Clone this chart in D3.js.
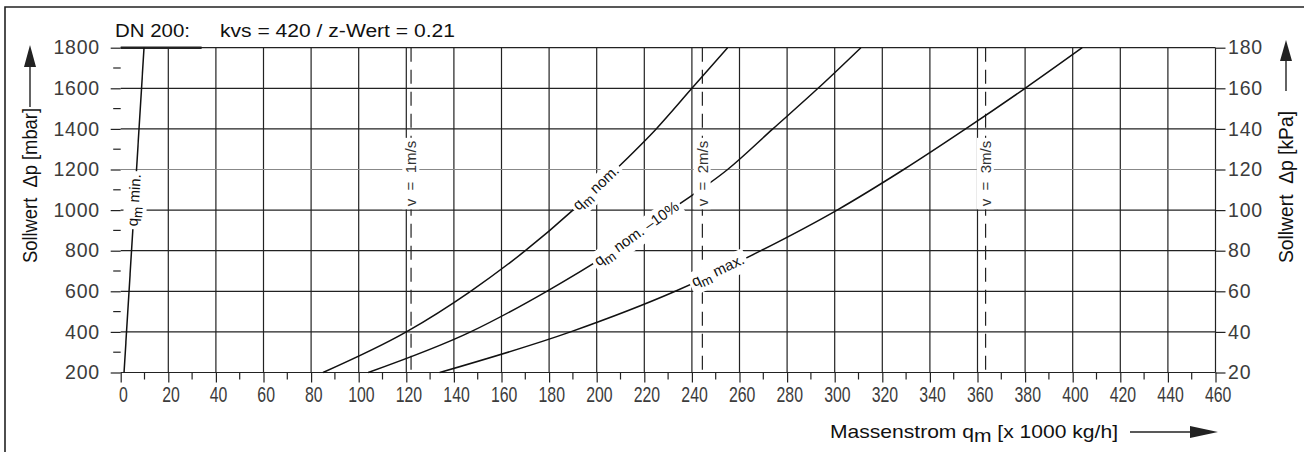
<!DOCTYPE html>
<html>
<head>
<meta charset="utf-8">
<script src="https://cdn.jsdelivr.net/npm/d3@7"></script>
<style>
  body { margin: 0; background: #fff; }
  svg { display: block; }
</style>
</head>
<body>
<div id="chart"></div>
<script>
// Sollwert dp (mbar) at which the curves were read
const dpValues = [200, 400, 600, 800, 1000, 1200, 1400, 1600, 1800];
// Massenstrom in x 1000 kg/h for each curve at those dp
const qNom = [85, 120, 147, 170, 190, 208, 225, 240, 255];
const qNom10 = [104, 147, 179, 207, 231, 255, 274, 293, 311];
const qMax = [134, 189, 233, 269, 301, 329, 355, 380, 404];
// q min is drawn as a steep straight line
const qMinDp = [200, 1800];
const qMin = [1.4, 9.8];

// curve labels and the dp where they sit on the curve
const curveNames = ["nom.", "nom. \u201310%", "max.", "min."];
const curveLabelDp = [1109, 882, 700, 1049];

// flow velocity lines
const velocityQ = [122, 244.4, 363.4];
const velocityLabels = ["v  =  1m/s", "v  =  2m/s", "v  =  3m/s"];
const velocityLabelDp = 1180;

// ticks
const xTickLabels = [0, 20, 40, 60, 80, 100, 120, 140, 160, 180, 200, 220, 240, 260, 280, 300, 320, 340, 360, 380, 400, 420, 440, 460];
const xMinorTicks = [10, 30, 50, 70, 90, 110, 130, 150, 170, 190, 210, 230, 250, 270, 290, 310, 330, 350, 370, 390, 410, 430, 450];
const yTickLabels = [200, 400, 600, 800, 1000, 1200, 1400, 1600, 1800];
const yMinorTicks = [300, 500, 700, 900, 1100, 1300, 1500, 1700];
const kPaTickLabels = [20, 40, 60, 80, 100, 120, 140, 160, 180];
const topBar = [0, 34];

var width = 1304,
    height = 452;

var x = d3.scaleLinear().domain([0, 460]).range([120.7, 1215.5]);
var y = d3.scaleLinear().domain([200, 1800]).range([372.5, 47.7]);
var yKPa = d3.scaleLinear().domain([20, 180]).range([372.5, 47.7]);

var ink = "#222";
var font = "'Liberation Sans', Arial, sans-serif";

var svg = d3.select("#chart")
    .append("svg")
    .attr("width", width)
    .attr("height", height)
    .style("font-family", font);

// frame (top + left)
svg.append("path")
    .attr("d", "M5,452 L5,7 L1304,7")
    .attr("fill", "none")
    .attr("stroke", ink)
    .attr("stroke-width", 1.6);

// grid
var grid = svg.append("g").attr("stroke", ink).attr("stroke-width", 1.2);

grid.selectAll(".vgrid")
    .data(xTickLabels.filter(function(d) { return d > 0; }))
    .enter().append("line")
    .attr("x1", function(d) { return x(d); })
    .attr("x2", function(d) { return x(d); })
    .attr("y1", y(1800))
    .attr("y2", y(200));

grid.selectAll(".hgrid")
    .data(yTickLabels)
    .enter().append("line")
    .attr("x1", x(0))
    .attr("x2", x(460))
    .attr("y1", function(d) { return y(d); })
    .attr("y2", function(d) { return y(d); })
    .attr("stroke", function(d) { return d === 1200 ? "#888" : ink; });

// thick piece on top line
svg.append("line")
    .attr("x1", x(topBar[0])).attr("x2", x(topBar[1]))
    .attr("y1", y(1800)).attr("y2", y(1800))
    .attr("stroke", ink).attr("stroke-width", 2.6);

// minor ticks
grid.selectAll(".xminor")
    .data(xMinorTicks)
    .enter().append("line")
    .attr("x1", function(d) { return x(d); })
    .attr("x2", function(d) { return x(d); })
    .attr("y1", y(200))
    .attr("y2", y(200) + 7);

grid.selectAll(".yminor")
    .data(yMinorTicks)
    .enter().append("line")
    .attr("x1", x(0) - 7.5)
    .attr("x2", x(0))
    .attr("y1", function(d) { return y(d); })
    .attr("y2", function(d) { return y(d); });

// axes (labels + major ticks)
var tickColor = "#3c3c3c";

var xAxis = svg.append("g")
    .attr("transform", "translate(0," + y(200) + ")")
    .call(d3.axisBottom(x).tickValues(xTickLabels).tickFormat(d3.format("d")).tickSize(10).tickPadding(3.5));
xAxis.select(".domain").remove();
xAxis.selectAll("line").attr("stroke", ink).attr("stroke-width", 1.2);
xAxis.selectAll("text")
    .attr("font-family", font)
    .attr("font-size", 22)
    .attr("fill", tickColor)
    .attr("x", 3)
    .attr("transform", "scale(0.72,1)");

var yAxis = svg.append("g")
    .attr("transform", "translate(" + x(0) + ",0)")
    .call(d3.axisLeft(y).tickValues(yTickLabels).tickFormat(d3.format("d")).tickSize(10).tickPadding(10.7));
yAxis.select(".domain").remove();
yAxis.selectAll("line").attr("stroke", ink).attr("stroke-width", 1.2);
yAxis.selectAll("text")
    .attr("font-family", font)
    .attr("font-size", 19.5)
    .attr("letter-spacing", 0.8)
    .attr("fill", tickColor);

var rAxis = svg.append("g")
    .attr("transform", "translate(" + x(460) + ",0)")
    .call(d3.axisRight(yKPa).tickValues(kPaTickLabels).tickFormat(d3.format("d")).tickSize(10).tickPadding(2.5));
rAxis.select(".domain").remove();
rAxis.selectAll("line").attr("stroke", ink).attr("stroke-width", 1.2);
rAxis.selectAll("text")
    .attr("font-family", font)
    .attr("font-size", 19.5)
    .attr("letter-spacing", 0.8)
    .attr("fill", tickColor);

// velocity lines
svg.selectAll(".vline")
    .data(velocityQ)
    .enter().append("line")
    .attr("x1", function(d) { return x(d); })
    .attr("x2", function(d) { return x(d); })
    .attr("y1", y(1800))
    .attr("y2", y(200))
    .attr("stroke", ink)
    .attr("stroke-width", 1.2)
    .attr("stroke-dasharray", "14,8");

// curves
var curves = [
    { q: qNom, dp: dpValues },
    { q: qNom10, dp: dpValues },
    { q: qMax, dp: dpValues },
    { q: qMin, dp: qMinDp }
];

var line = d3.line()
    .x(function(d) { return x(d[0]); })
    .y(function(d) { return y(d[1]); })
    .curve(d3.curveMonotoneX);

svg.selectAll(".curve")
    .data(curves)
    .enter().append("path")
    .attr("d", function(c) { return line(d3.zip(c.q, c.dp)); })
    .attr("fill", "none")
    .attr("stroke", "#111")
    .attr("stroke-width", 1.5);

// curve labels on white
curves.forEach(function(c, i) {
    var qAt = d3.scaleLinear().domain(c.dp).range(c.q);
    var dp = curveLabelDp[i];
    var x1 = x(qAt(dp - 40)), y1 = y(dp - 40),
        x2 = x(qAt(dp + 40)), y2 = y(dp + 40);
    var ang = Math.atan2(y2 - y1, x2 - x1) * 180 / Math.PI;

    var g = svg.append("g")
        .attr("transform", "translate(" + x(qAt(dp)) + "," + y(dp) + ") rotate(" + ang + ")");
    var t = g.append("text")
        .attr("text-anchor", "middle")
        .attr("dy", "0.3em")
        .attr("font-size", 15)
        .attr("fill", "#111");
    t.append("tspan").text("q");
    t.append("tspan").attr("dy", 4).attr("font-size", 13.5).text("m");
    t.append("tspan").attr("dy", -4).text(" " + curveNames[i]);

    var bb = t.node().getBBox();
    g.insert("rect", "text")
        .attr("x", bb.x - 3).attr("y", bb.y - 1)
        .attr("width", bb.width + 6).attr("height", bb.height + 2)
        .attr("fill", "#fff");
});

// velocity labels
velocityQ.forEach(function(q, i) {
    var g = svg.append("g")
        .attr("transform", "translate(" + x(q) + "," + y(velocityLabelDp) + ") rotate(-90)");
    var t = g.append("text")
        .attr("text-anchor", "middle")
        .attr("dy", "0.35em")
        .attr("font-size", 15)
        .attr("fill", "#333")
        .style("white-space", "pre")
        .text(velocityLabels[i]);
    var bb = t.node().getBBox();
    g.insert("rect", "text")
        .attr("x", bb.x - 3).attr("y", bb.y)
        .attr("width", bb.width + 6).attr("height", bb.height)
        .attr("fill", "#fff");
});

// title
svg.append("text")
    .attr("x", 115).attr("y", 36.7)
    .attr("font-size", 17.5)
    .attr("textLength", 75).attr("lengthAdjust", "spacingAndGlyphs")
    .attr("fill", "#111")
    .text("DN 200:");
svg.append("text")
    .attr("x", 220).attr("y", 36.7)
    .attr("font-size", 17.5)
    .attr("textLength", 235).attr("lengthAdjust", "spacingAndGlyphs")
    .attr("fill", "#111")
    .text("kvs = 420 / z-Wert = 0.21");

// x axis title + arrow
var xt = svg.append("text")
    .attr("x", 830).attr("y", 438)
    .attr("font-size", 19)
    .attr("textLength", 288).attr("lengthAdjust", "spacingAndGlyphs")
    .attr("fill", "#111");
xt.append("tspan").text("Massenstrom q");
xt.append("tspan").attr("dy", 4).text("m");
xt.append("tspan").attr("dy", -4).text(" [x 1000 kg/h]");

svg.append("line")
    .attr("x1", 1130).attr("x2", 1196).attr("y1", 432).attr("y2", 432)
    .attr("stroke", ink).attr("stroke-width", 1.4);
svg.append("path")
    .attr("d", "M1218,432 L1190,426 L1190,438 Z")
    .attr("fill", ink);

// y axis titles + arrows
svg.append("text")
    .attr("transform", "translate(37,185.5) rotate(-90)")
    .attr("text-anchor", "middle")
    .attr("font-size", 20.5)
    .attr("textLength", 155).attr("lengthAdjust", "spacingAndGlyphs")
    .attr("fill", "#111")
    .style("white-space", "pre")
    .text("Sollwert  \u0394p [mbar]");
svg.append("line")
    .attr("x1", 30).attr("x2", 30).attr("y1", 107).attr("y2", 62)
    .attr("stroke", ink).attr("stroke-width", 1.4);
svg.append("path")
    .attr("d", "M30,45 L24,67 L36,67 Z")
    .attr("fill", ink);

svg.append("text")
    .attr("transform", "translate(1292.5,187) rotate(-90)")
    .attr("text-anchor", "middle")
    .attr("font-size", 20.5)
    .attr("textLength", 152).attr("lengthAdjust", "spacingAndGlyphs")
    .attr("fill", "#111")
    .style("white-space", "pre")
    .text("Sollwert  \u0394p [kPa]");
svg.append("line")
    .attr("x1", 1286).attr("x2", 1286).attr("y1", 91).attr("y2", 57)
    .attr("stroke", ink).attr("stroke-width", 1.4);
svg.append("path")
    .attr("d", "M1286,40 L1280,61 L1292,61 Z")
    .attr("fill", ink);
</script>
</body>
</html>
